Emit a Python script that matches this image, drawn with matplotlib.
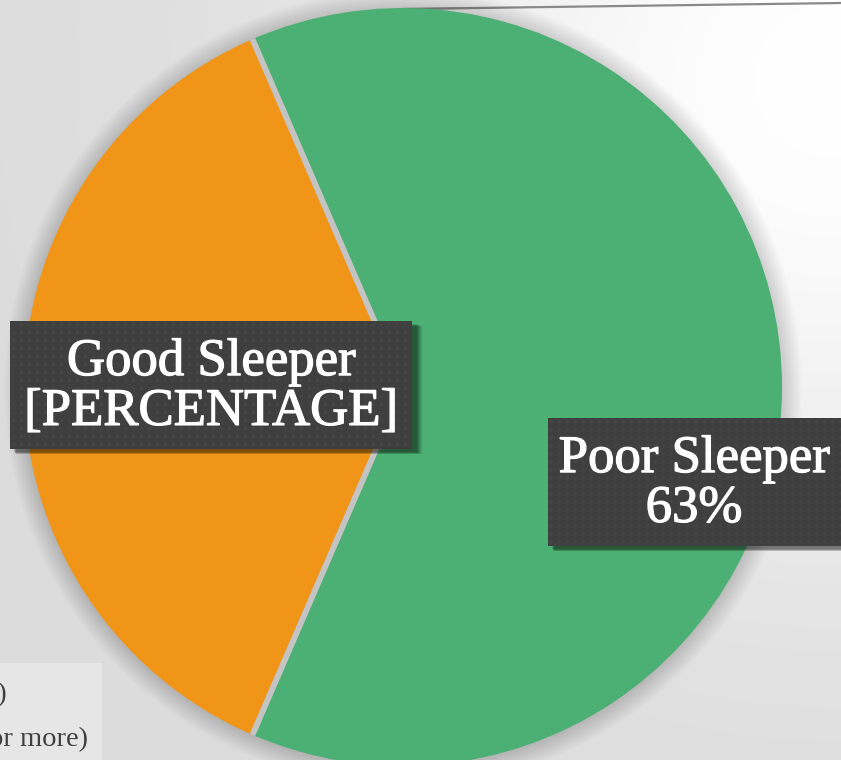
import numpy as np
import matplotlib
matplotlib.use("Agg")
import matplotlib.pyplot as plt
import matplotlib.patheffects as pe
from matplotlib.patches import Rectangle, Circle

# Sleep quality split
categories = ["Poor Sleeper", "Good Sleeper"]
shares = [63, 37]
slice_colors = ["#4caf73", "#f09517"]
label_texts = ["Poor Sleeper\n{}%".format(shares[0]), "Good Sleeper\n[PERCENTAGE]"]
legend_texts = ["Good Sleeper (PSQI < 5)", "Poor Sleeper (PSQI 5 or more)"]

W, H = 841, 760
fig = plt.figure(figsize=(W / 100, H / 100), dpi=100)
ax = fig.add_axes([0, 0, 1, 1])

# slide background: light grey with a brighter patch toward the upper right
yy, xx = np.mgrid[0:H, 0:W]          # yy counts rows from the top
d2 = (xx - 830.0) ** 2 + (yy - 80.0) ** 2
bg = 0.862 + (1.0 - 0.862) * np.exp(-d2 / (2 * 320.0 ** 2))
ax.imshow(np.dstack([bg, bg, bg]), extent=(0, W, 0, H), origin="upper",
          zorder=0, interpolation="bilinear")

# decorative rule across the top
ax.plot([403, W], [H - 9, H - 3], color="#8a8a8a", lw=1.6, zorder=1, solid_capstyle="butt")

# pie geometry
cx, cy, r = 403, H - 387, 379
start = 180 + shares[1] / 100 * 180  # smaller slice centred on the left

# soft halo behind the pie
for i in range(1, 21):
    ax.add_patch(Circle((cx, cy - 1), r + i, color="black", alpha=0.009, lw=0, zorder=2))

wedges, _ = ax.pie(shares, colors=slice_colors, startangle=start, counterclock=True,
                   center=(cx, cy), radius=r, frame=True,
                   wedgeprops=dict(linewidth=0))
for w in wedges:
    w.set_zorder(3)

# separators between slices
angle = start
for s in shares:
    th = np.deg2rad(angle)
    ax.plot([cx, cx + r * np.cos(th)], [cy, cy + r * np.sin(th)],
            color="#c4c4c4", lw=4.2, zorder=4, solid_capstyle="butt")
    angle += s / 100 * 360


def texture(w, h):
    tw, th = int(w), int(h)
    img = np.full((th, tw, 3), 0.25)
    gy, gx = np.mgrid[0:th, 0:tw]
    dots = ((gx % 8) == 3) & ((gy % 8) == 3)
    halo = ((np.abs((gx % 8) - 3) <= 1) & (np.abs((gy % 8) - 3) <= 1)) & ~dots
    img[halo] = 0.265
    img[dots] = 0.285
    return img


def label_box(x0, ytop, w, h, text, tx):
    y0 = H - ytop - h
    for k, a in zip(range(8, 0, -1), [0.04, 0.05, 0.06, 0.07, 0.08, 0.09, 0.1, 0.12]):
        ax.add_patch(Rectangle((x0 + 4 + k * 0.3, y0 - 3 - k * 0.3), w + k * 0.6, h,
                               color="black", alpha=a, lw=0, zorder=5))
    ax.imshow(texture(w, h), extent=(x0, x0 + w, y0, y0 + h), zorder=6,
              interpolation="nearest")
    ax.text(tx, y0 + h / 2 - 2, text, color="white", fontsize=38, family="Liberation Serif",
            ha="center", va="center", linespacing=1.05, zorder=7,
            path_effects=[pe.withStroke(linewidth=0.9, foreground="white")])


label_box(10, 321, 402, 128, label_texts[1], 211)
label_box(548, 418, 300, 128, label_texts[0], 694)

# legend panel, mostly outside the visible area
ax.add_patch(Rectangle((-300, 0), 402, H - 663, color="#e6e6e6", lw=0, zorder=5))
ax.text(7, H - 694, legend_texts[0], ha="right", va="center", fontsize=20.5,
        family="Liberation Serif", color="#404040", zorder=6)
ax.text(88, H - 739, legend_texts[1], ha="right", va="center", fontsize=20.5,
        family="Liberation Serif", color="#404040", zorder=6)

ax.set_xlim(0, W)
ax.set_ylim(0, H)
ax.set_aspect("equal")
ax.axis("off")

fig.savefig("out.png", dpi=100)
